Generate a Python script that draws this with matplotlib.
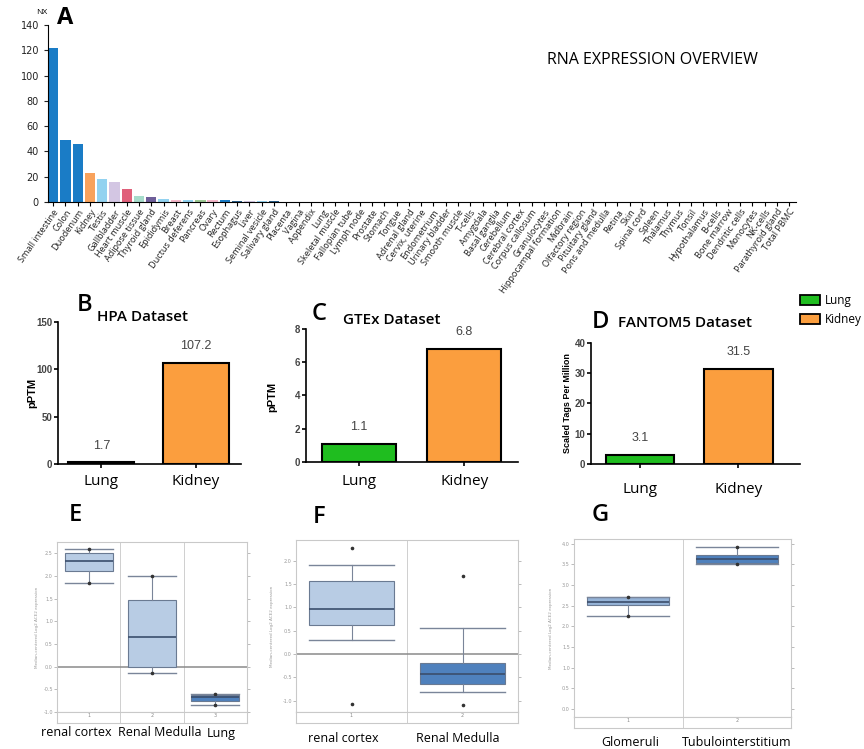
import matplotlib
matplotlib.use("Agg")
import matplotlib.pyplot as plt
from matplotlib.patches import Patch
import numpy as np

# ---------------- data ----------------
tissues = ["Small intestine", "Colon", "Duodenum", "Kidney", "Testis", "Gallbladder",
           "Heart muscle", "Adipose tissue", "Thyroid gland", "Epididymis", "Breast",
           "Ductus deferens", "Pancreas", "Ovary", "Rectum", "Esophagus", "Liver",
           "Seminal vesicle", "Salivary gland", "Placenta", "Vagina", "Appendix", "Lung",
           "Skeletal muscle", "Fallopian tube", "Lymph node", "Prostate", "Stomach",
           "Tongue", "Adrenal gland", "Cervix, uterine", "Endometrium", "Urinary bladder",
           "Smooth muscle", "T-cells", "Amygdala", "Basal ganglia", "Cerebellum",
           "Cerebral cortex", "Corpus callosum", "Granulocytes", "Hippocampal formation",
           "Midbrain", "Olfactory region", "Pituitary gland", "Pons and medulla", "Retina",
           "Skin", "Spinal cord", "Spleen", "Thalamus", "Thymus", "Tonsil", "Hypothalamus",
           "B-cells", "Bone marrow", "Dendritic cells", "Monocytes", "NK-cells",
           "Parathyroid gland", "Total PBMC"]
nx_values = [122.2, 49.1, 46.0, 23.1, 17.8, 16.2, 10.4, 4.4, 4.3, 2.1, 1.9, 1.9, 1.6,
             1.3, 1.2, 0.6, 0.5, 0.5, 0.5, 0.3, 0.3, 0.3, 0.3, 0.2, 0.2, 0.2, 0.2, 0.2,
             0.2, 0.1, 0.1, 0.1, 0.1, 0.1, 0.1, 0.1, 0.1, 0.1, 0.1, 0.1, 0.1, 0.1, 0.1,
             0.1, 0.1, 0.1, 0.1, 0.1, 0.1, 0.1, 0.1, 0.1, 0.1, 0.0, 0.0, 0.0, 0.0, 0.0,
             0.0, 0.0, 0.0]
GI, KID, MALE, LIV, MUS, ADI, END, FEM, PAN = ("#1a7cc6", "#f8a25c", "#92d2f0", "#d3c6e3",
                                               "#e0607a", "#a6dccb", "#6e5e99", "#f4b6c8", "#9cc893")
BRN, BLD, LYM, SKN, LNG = "#f2d36b", "#e9a3a3", "#a9d8e8", "#f0c5a0", "#b5d3e8"
tissue_colors = [GI, GI, GI, KID, MALE, LIV, MUS, ADI, END, MALE, FEM, MALE, PAN, FEM, GI,
                 "#2a5f8a", LIV, MALE, "#2a5f8a", FEM, FEM, GI, LNG, MUS, FEM, LYM, MALE, GI,
                 "#2a5f8a", END, FEM, FEM, KID, MUS, BLD, BRN, BRN, BRN, BRN, BRN, BLD, BRN,
                 BRN, BRN, END, BRN, BRN, SKN, BRN, LYM, BRN, LYM, LYM, BRN, BLD, LYM, BLD,
                 BLD, BLD, END, BLD]

bar_categories = ["Lung", "Kidney"]
hpa_values = [1.7, 107.2]
gtex_values = [1.1, 6.8]
fantom_values = [3.1, 31.5]

e_labels = ["renal cortex", "Renal Medulla", "Lung"]
e_stats = [dict(whislo=1.85, q1=2.10, med=2.33, q3=2.51, whishi=2.59, fliers=[1.85, 2.59]),
           dict(whislo=-0.15, q1=0.0, med=0.66, q3=1.46, whishi=1.99, fliers=[-0.15, 1.99]),
           dict(whislo=-0.84, q1=-0.75, med=-0.68, q3=-0.625, whishi=-0.60, fliers=[-0.84, -0.60])]
f_labels = ["renal cortex", "Renal Medulla"]
f_stats = [dict(whislo=0.31, q1=0.62, med=0.97, q3=1.56, whishi=1.90, fliers=[2.26, -1.07]),
           dict(whislo=-0.81, q1=-0.64, med=-0.43, q3=-0.19, whishi=0.56, fliers=[1.67, -1.09])]
g_labels = ["Glomeruli", "Tubulointerstitium"]
g_stats = [dict(whislo=2.26, q1=2.51, med=2.60, q3=2.72, whishi=2.72, fliers=[2.26, 2.72]),
           dict(whislo=3.50, q1=3.52, med=3.62, q3=3.73, whishi=3.91, fliers=[3.91, 3.50])]

GREEN = "#1fbd1f"
ORANGE = "#fb9e3e"

W, H = 864, 749
fig = plt.figure(figsize=(W / 100, H / 100), dpi=100)
LAB = "Open Sans"


def rect(x0, y0, x1, y1):
    return [x0 / W, 1 - y1 / H, (x1 - x0) / W, (y1 - y0) / H]


# ---------------- Panel A ----------------
axA = fig.add_axes(rect(48, 25, 796, 202))
x = np.arange(len(tissues))
axA.bar(x, nx_values, width=0.84, color=tissue_colors)
axA.set_xlim(-0.42, 60.55)
axA.set_ylim(0, 140)
axA.set_yticks(np.arange(0, 141, 20))
axA.set_xticks(x)
axA.set_xticklabels(tissues, rotation=55, ha="right", rotation_mode="anchor",
                    fontsize=6.6, family=LAB, color="#222")
axA.tick_params(axis="y", labelsize=7, length=3, colors="#222")
axA.tick_params(axis="x", length=3, pad=1)
for s in ["top", "right"]:
    axA.spines[s].set_visible(False)
fig.text(42 / W, 1 - 13 / H, "NX", fontsize=6, ha="center", va="center", family=LAB)
fig.text(65 / W, 1 - 18 / H, "A", fontsize=17, fontweight="bold", ha="center", va="center", family=LAB)
fig.text(652 / W, 1 - 60 / H, "RNA EXPRESSION OVERVIEW", fontsize=11.5, ha="center", va="center",
         family=LAB)


# ---------------- Panels B, C, D ----------------
def bar_panel(box, vals, xlim, ylim, yticks, letter, lxy, title, txy, ylabel, yl_xy, yl_size, cat_y):
    ax = fig.add_axes(rect(*box))
    ax.bar([0, 1], vals, width=0.7, color=[GREEN, ORANGE], edgecolor="black", linewidth=1.5)
    ax.set_xlim(*xlim)
    ax.set_ylim(*ylim)
    ax.set_yticks(yticks)
    ax.set_xticks([0, 1])
    ax.set_xticklabels([])
    for s in ["top", "right"]:
        ax.spines[s].set_visible(False)
    for s in ["left", "bottom"]:
        ax.spines[s].set_linewidth(1.2)
    ax.tick_params(axis="y", length=3, width=1.2, labelsize=7, pad=1)
    ax.tick_params(axis="x", length=3, width=1.2)
    for t in ax.get_yticklabels():
        t.set_fontweight("bold")
        t.set_color("#444")
        t.set_family("Liberation Sans")
    for i, v in enumerate(vals):
        ax.annotate(f"{v}", (i, v), xytext=(0, 12), textcoords="offset points",
                    ha="center", va="center", fontsize=9, color="#444", family="Liberation Sans")
    fig.text(lxy[0] / W, 1 - lxy[1] / H, letter, fontsize=17, ha="center", va="center", family=LAB,
             fontweight="semibold")
    fig.text(txy[0] / W, 1 - txy[1] / H, title, fontsize=11, ha="left", va="center", family=LAB,
             fontweight="semibold")
    fig.text(yl_xy[0] / W, 1 - yl_xy[1] / H, ylabel, fontsize=yl_size, rotation=90, ha="center",
             va="center", fontweight="bold", family="Liberation Sans")
    for i, c in enumerate(bar_categories):
        xd = ax.transData.transform((i, 0))[0]
        fig.text(xd / fig.bbox.width, 1 - cat_y / H, c, fontsize=11, ha="center", va="center",
                 family=LAB)
    return ax


bar_panel((58, 322, 241, 464), hpa_values, (-0.46, 1.48), (0, 150), [0, 50, 100, 150],
          "B", (85, 305), "HPA Dataset", (97, 317), "pPTM", (32, 393), 8, 482)
bar_panel((306, 329, 518, 462), gtex_values, (-0.5, 1.51), (0, 8), [0, 2, 4, 6, 8],
          "C", (319, 314), "GTEx Dataset", (343, 320), "pPTM", (272, 397), 8, 482)
bar_panel((591, 343, 800, 464), fantom_values, (-0.5, 1.63), (0, 40), [0, 10, 20, 30, 40],
          "D", (600, 322), "FANTOM5 Dataset", (618, 323), "Scaled Tags Per Million", (567, 403), 6.5, 490)

fig.legend(handles=[Patch(facecolor=GREEN, edgecolor="black", linewidth=1.3, label="Lung"),
                    Patch(facecolor=ORANGE, edgecolor="black", linewidth=1.3, label="Kidney")],
           loc="upper left", bbox_to_anchor=(800 / W, 1 - 294 / H), frameon=False,
           prop={"family": LAB, "size": 8.5}, handlelength=1.7, handleheight=1.0,
           handletextpad=0.4, labelspacing=0.5, borderaxespad=0, borderpad=0)


# ---------------- Panels E, F, G ----------------
def box_panel(frame, band_bottom, stats, colors, ylim, yticks, zero_line, letter, lxy, labels,
              lab_x, lab_y, ylab_x):
    x0, y0, x1, y1 = frame
    ax = fig.add_axes(rect(x0, y0, x1, y1))
    axb = fig.add_axes(rect(x0, y1, x1, band_bottom))
    n = len(stats)
    if zero_line:
        ax.axhline(0, color="#8a8a8a", lw=1.1, zorder=1)
    bp = ax.bxp(stats, positions=np.arange(1, n + 1), widths=0.76, capwidths=0.76,
                patch_artist=True, showfliers=True,
                boxprops=dict(edgecolor="#6a7a92", linewidth=0.8),
                medianprops=dict(color="#3b4e6c", linewidth=1.2),
                whiskerprops=dict(color="#7a8599", linewidth=0.8),
                capprops=dict(color="#7a8599", linewidth=1.0),
                flierprops=dict(marker="o", markersize=1.6, markerfacecolor="#333",
                                markeredgecolor="#333"))
    for p, c in zip(bp["boxes"], colors):
        p.set_facecolor(c)
    for a in (ax, axb):
        a.set_xlim(0.5, n + 0.5)
        for s in a.spines.values():
            s.set_color("#c9c9c9")
            s.set_linewidth(0.8)
        for k in range(1, n):
            a.axvline(k + 0.5, color="#cfcfcf", lw=0.7, zorder=0)
    ax.set_ylim(*ylim)
    ax.set_yticks(yticks)
    ax.set_yticklabels([f"{t:.1f}" for t in yticks])
    ax.set_xticks([])
    ax.tick_params(axis="y", left=True, right=True, length=2, width=0.6, colors="#b0b0b0",
                   labelsize=3.5, labelcolor="#999", pad=1)
    axb.set_ylim(0, 1)
    axb.set_yticks([])
    axb.set_xticks(np.arange(1, n + 1))
    axb.set_xticklabels([str(i) for i in range(1, n + 1)])
    axb.tick_params(axis="x", direction="in", length=0, labelsize=3.5, labelcolor="#888", pad=-7)
    ax.set_ylabel("Median-centered Log2 ACE2 expression", fontsize=3, color="#999")
    ax.yaxis.set_label_coords((ylab_x - x0) / (x1 - x0), 0.5)
    fig.text(lxy[0] / W, 1 - lxy[1] / H, letter, fontsize=17, ha="center", va="center", family=LAB,
             fontweight="semibold")
    for lab, lx in zip(labels, lab_x):
        fig.text(lx / W, 1 - lab_y / H, lab, fontsize=9, ha="center", va="center", family=LAB)


box_panel((57, 542, 247, 712), 723, e_stats, ["#b8cce4", "#b8cce4", "#4f81bd"], (-1.0, 2.75),
          np.arange(-1.0, 2.51, 0.5), True, "E", (75, 515), e_labels, (76, 160, 221), 733, 39)
box_panel((296, 540, 518, 712), 723, f_stats, ["#b8cce4", "#4f81bd"], (-1.24, 2.44),
          np.arange(-1.0, 2.01, 0.5), True, "F", (319, 517), f_labels, (343, 458), 738, 274)
box_panel((574, 539, 791, 717), 728, g_stats, ["#95b3d7", "#4f81bd"], (-0.19, 4.11),
          np.arange(0.0, 4.01, 0.5), False, "G", (600, 515), g_labels, (630, 737), 743, 553)

fig.savefig("out.png", dpi=100)
